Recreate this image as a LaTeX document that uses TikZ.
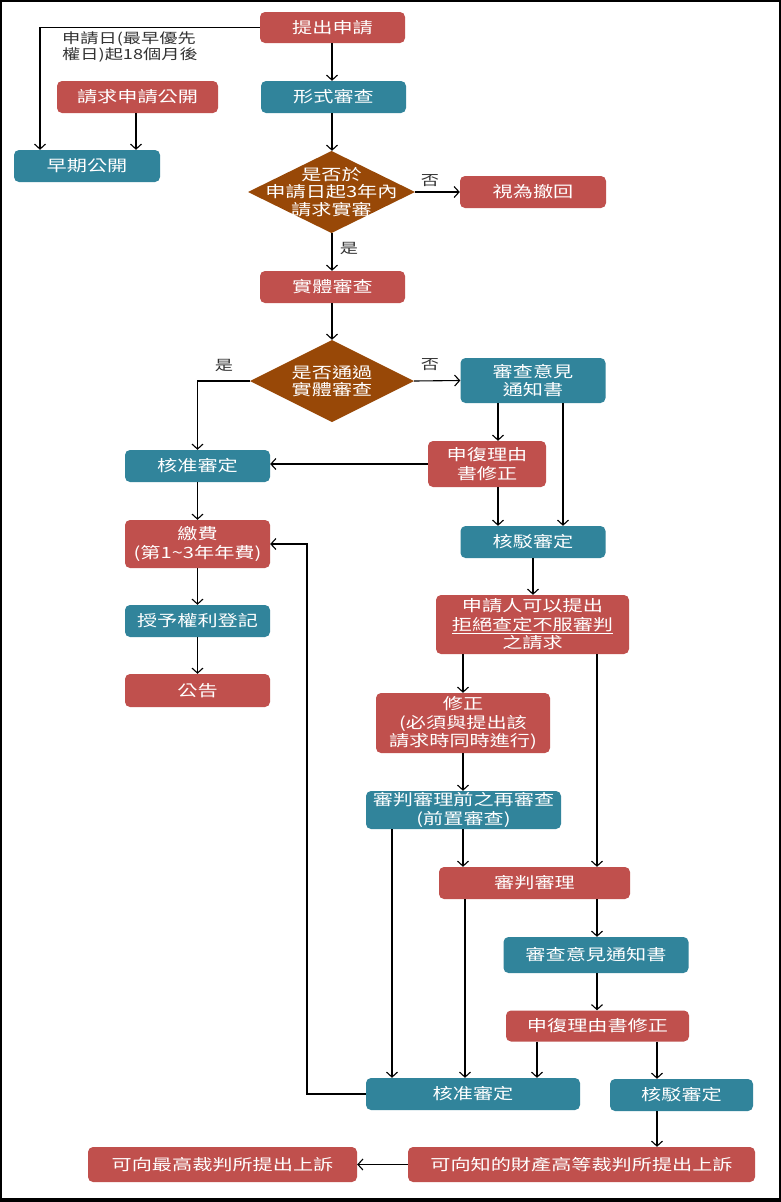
\documentclass[tikz,border=0pt]{standalone}
\usepackage{fontspec}
\setmainfont[FakeStretch=1.3]{Noto Sans CJK TC}
\usetikzlibrary{arrows.meta,calc}
\definecolor{cred}{HTML}{C0504D}
\definecolor{cteal}{HTML}{31849B}
\definecolor{cbrown}{HTML}{984807}
\begin{document}
\begin{tikzpicture}[x=1pt,y=-1pt,
  base/.style={rounded corners=5pt, text=white, inner sep=0pt, align=center,
    font=\fontsize{15.5}{18.5}\selectfont},
  rbox/.style={base, fill=cred},
  tbox/.style={base, fill=cteal},
  diam/.style={draw=none, fill=cbrown},
  dtext/.style={text=white, align=center, inner sep=0pt, font=\fontsize{15.5}{17.5}\selectfont},
  arr/.style={line width=1.1pt, -{Straight Barb[length=5pt,width=11pt,line width=1.1pt]}},
  lab/.style={inner sep=0pt, font=\fontsize{14}{15.5}\selectfont, text=black!80}]
% frame
\fill[black] (0,0) rectangle (781,1202);
\fill[white] (2,2) rectangle (778.5,1197.5);
\useasboundingbox (0,0) rectangle (781,1202);
% nodes
\node[rbox, minimum width=145, minimum height=31] (n1) at (332.5,27.5) {提出申請};
\node[tbox, minimum width=145, minimum height=32] (n2) at (333.5,97) {形式審查};
\path[diam] (248,192) -- (331.5,151) -- (415,192) -- (331.5,233) -- cycle;
\node[inner sep=0pt, minimum width=167, minimum height=82] (d1) at (331.5,192) {};
\node[dtext] (d1t) at (331.5,192) {是否於\\申請日起3年內\\請求實審};
\node[rbox, minimum width=146, minimum height=32] (n4) at (533,192) {視為撤回};
\node[rbox, minimum width=145, minimum height=32] (n5) at (332.5,287) {實體審查};
\path[diam] (250,381) -- (332,340) -- (414,381) -- (332,422) -- cycle;
\node[inner sep=0pt, minimum width=164, minimum height=82] (d2) at (332,381) {};
\node[dtext] (d2t) at (332,381) {是否通過\\實體審查};
\node[tbox, minimum width=145, minimum height=45] (n7) at (533,380.5) {審查意見\\通知書};
\node[rbox, minimum width=118, minimum height=46] (n8) at (487,464) {申復理由\\書修正};
\node[tbox, minimum width=145, minimum height=32] (n9) at (197.5,466) {核准審定};
\node[tbox, minimum width=145, minimum height=32] (n10) at (533,542) {核駁審定};
\node[rbox, minimum width=145, minimum height=48] (n11) at (197.5,544) {繳費\\(第1\textasciitilde 3年年費)};
\node[tbox, minimum width=145, minimum height=32] (n12) at (197.5,621) {授予權利登記};
\node[rbox, minimum width=145, minimum height=33] (n13) at (197.5,690.5) {公告};
\node[rbox, minimum width=161, minimum height=32] (n14) at (137.5,97) {請求申請公開};
\node[tbox, minimum width=146, minimum height=32] (n15) at (87,166) {早期公開};
\node[lab, anchor=north west, align=left] (ann) at (62,32) {申請日(最早優先\\權日)起18個月後};
\node[rbox, minimum width=193, minimum height=59] (n17) at (532.5,624.5) {申請人可以提出\\\underline{拒絕查定不服審判}\\之請求};
\node[rbox, minimum width=174, minimum height=60] (n18) at (463,723) {修正\\(必須與提出該\\請求時同時進行)};
\node[tbox, minimum width=195, minimum height=38] (n19) at (463.5,810) {審判審理前之再審查\\(前置審查)};
\node[rbox, minimum width=191, minimum height=32] (n20) at (534.5,883) {審判審理};
\node[tbox, minimum width=185, minimum height=36] (n21) at (596,955) {審查意見通知書};
\node[rbox, minimum width=183, minimum height=31] (n22) at (597.5,1026) {申復理由書修正};
\node[tbox, minimum width=214, minimum height=32] (n23) at (473,1094) {核准審定};
\node[tbox, minimum width=143, minimum height=32] (n24) at (681.5,1095) {核駁審定};
\node[rbox, minimum width=347, minimum height=35] (n25) at (581.5,1164.5) {可向知的財產高等裁判所提出上訴};
\node[rbox, minimum width=269, minimum height=35] (n26) at (222.5,1164.5) {可向最高裁判所提出上訴};
% helper coordinates
\coordinate (cL) at (40,0);
\coordinate (cR) at (307,0);
\coordinate (x498) at (498,0);
\coordinate (x563) at (563,0);
\coordinate (x463) at (463,0);
\coordinate (x597) at (597,0);
\coordinate (x392) at (392,0);
\coordinate (x465) at (465,0);
\coordinate (x537) at (537,0);
\coordinate (x657) at (657,0);
\coordinate (x332) at (332,0);
\coordinate (x136) at (136,0);
% connectors
\draw[arr] (n1.west) -- (cL |- n1.west) -- (cL |- n15.north);
\draw[arr] (x136 |- n14.south) -- (x136 |- n15.north);
\draw[arr] (x332 |- n1.south) -- (x332 |- n2.north);
\draw[arr] (x332 |- n2.south) -- (x332 |- d1.north);
\draw[arr] (d1.east) -- (n4.west);
\node[lab] (l1) at (430,181) {否};
\draw[arr] (x332 |- d1.south) -- (x332 |- n5.north);
\node[lab] (l2) at (349,248) {是};
\draw[arr] (x332 |- n5.south) -- (x332 |- d2.north);
\draw[arr] (d2.west) -- (n9.north |- d2.west) -- (n9.north);
\node[lab] (l3) at (224,365) {是};
\draw[arr] (d2.east) -- (n7.west);
\node[lab] (l4) at (430,365) {否};
\draw[arr] (x498 |- n7.south) -- (x498 |- n8.north);
\draw[arr] (x563 |- n7.south) -- (x563 |- n10.north);
\draw[arr] (n8.west) -- (n8.west -| n9.east);
\draw[arr] (x498 |- n8.south) -- (x498 |- n10.north);
\draw[arr] (n9.south) -- (n11.north);
\draw[arr] (n11.south) -- (n12.north);
\draw[arr] (n12.south) -- (n13.north);
\draw[arr] (n10.south) -- (n10.south |- n17.north);
\draw[arr] (x463 |- n17.south) -- (x463 |- n18.north);
\draw[arr] (x597 |- n17.south) -- (x597 |- n20.north);
\draw[arr] (x463 |- n18.south) -- (x463 |- n19.north);
\draw[arr] (x463 |- n19.south) -- (x463 |- n20.north);
\draw[arr] (x392 |- n19.south) -- (x392 |- n23.north);
\draw[arr] (x465 |- n20.south) -- (x465 |- n23.north);
\draw[arr] (x597 |- n20.south) -- (x597 |- n21.north);
\draw[arr] (x597 |- n21.south) -- (x597 |- n22.north);
\draw[arr] (x537 |- n22.south) -- (x537 |- n23.north);
\draw[arr] (x657 |- n22.south) -- (x657 |- n24.north);
\draw[arr] (x657 |- n24.south) -- (x657 |- n25.north);
\draw[arr] (n25.west) -- (n26.east);
\draw[arr] (n23.west) -- (cR |- n23.west) -- (cR |- n11.east) -- (n11.east);
\end{tikzpicture}
\end{document}
